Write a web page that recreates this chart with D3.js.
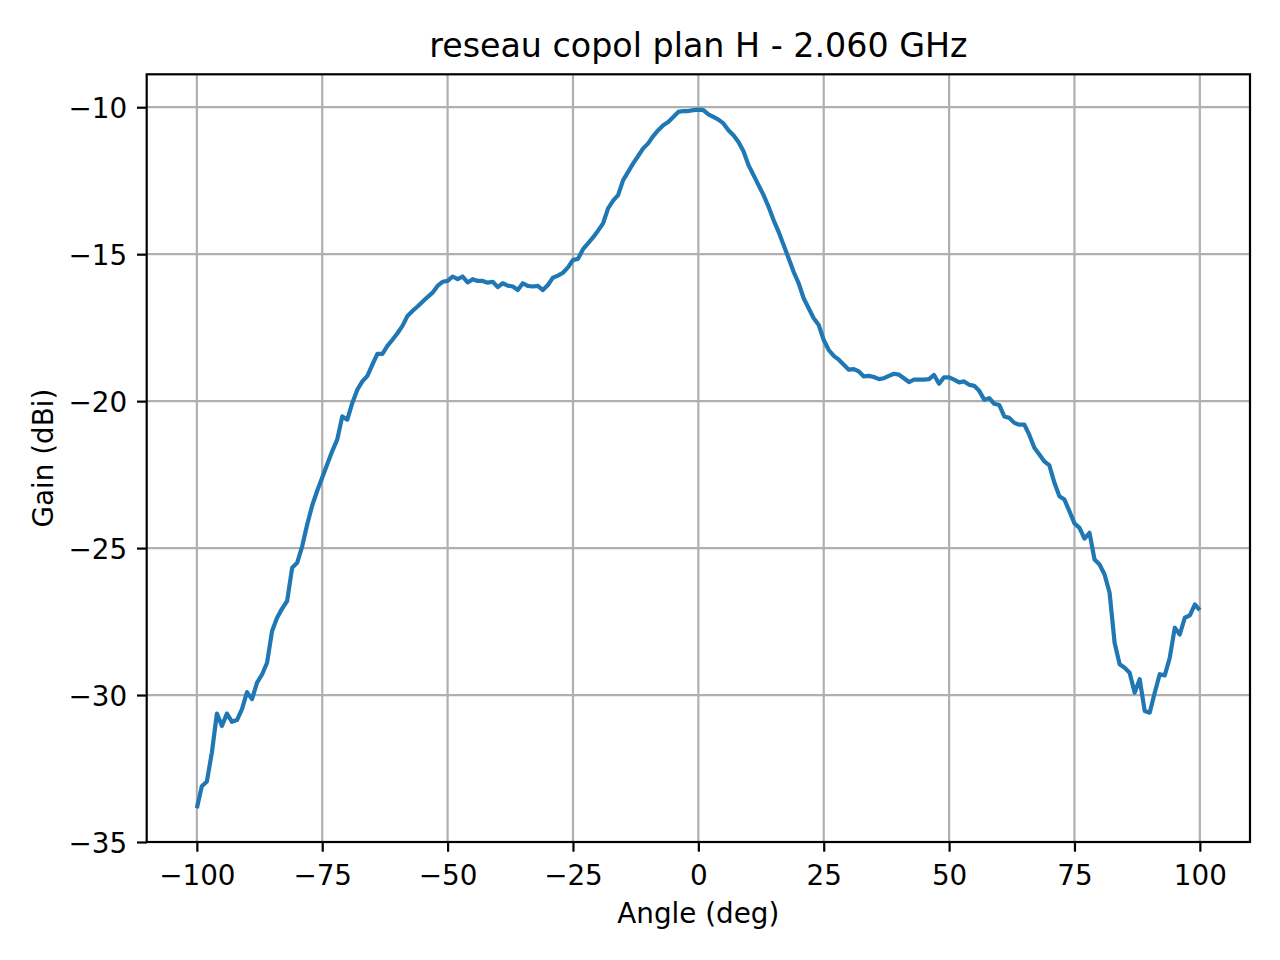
<!DOCTYPE html>
<html>
<head>
<meta charset="utf-8">
<script src="https://cdn.jsdelivr.net/npm/d3@7"></script>
<style>
  html, body { margin: 0; padding: 0; background: #fff; }
  svg { display: block; font-family: "DejaVu Sans", sans-serif; }
</style>
</head>
<body>
<svg id="chart" width="1280" height="960"></svg>
<script>
const title = "reseau copol plan H - 2.060 GHz";
const xLabel = "Angle (deg)";
const yLabel = "Gain (dBi)";
const xTicks = [-100, -75, -50, -25, 0, 25, 50, 75, 100];
const yTicks = [-35, -30, -25, -20, -15, -10];

const angles = [
  -100,-99,-98,-97,-96,-95,-94,-93,-92,-91,-90,-89,-88,-87,-86,-85,-84,-83,-82,-81,
  -80,-79,-78,-77,-76,-75,-74,-73,-72,-71,-70,-69,-68,-67,-66,-65,-64,-63,-62,-61,
  -60,-59,-58,-57,-56,-55,-54,-53,-52,-51,-50,-49,-48,-47,-46,-45,-44,-43,-42,-41,
  -40,-39,-38,-37,-36,-35,-34,-33,-32,-31,-30,-29,-28,-27,-26,-25,-24,-23,-22,-21,
  -20,-19,-18,-17,-16,-15,-14,-13,-12,-11,-10,-9,-8,-7,-6,-5,-4,-3,-2,-1,
  0,1,2,3,4,5,6,7,8,9,10,11,12,13,14,15,16,17,18,19,
  20,21,22,23,24,25,26,27,28,29,30,31,32,33,34,35,36,37,38,39,
  40,41,42,43,44,45,46,47,48,49,50,51,52,53,54,55,56,57,58,59,
  60,61,62,63,64,65,66,67,68,69,70,71,72,73,74,75,76,77,78,79,
  80,81,82,83,84,85,86,87,88,89,90,91,92,93,94,95,96,97,98,99,100
];

const gains = [
  -33.85,-33.10,-32.94,-31.95,-30.63,-31.05,-30.63,-30.91,-30.85,-30.48,
  -29.90,-30.14,-29.58,-29.30,-28.90,-27.82,-27.37,-27.06,-26.80,-25.67,
  -25.50,-24.94,-24.20,-23.55,-23.05,-22.60,-22.15,-21.70,-21.30,-20.52,
  -20.63,-20.06,-19.61,-19.33,-19.14,-18.76,-18.39,-18.39,-18.12,-17.91,
  -17.69,-17.44,-17.10,-16.93,-16.78,-16.62,-16.46,-16.31,-16.08,-15.94,
  -15.91,-15.76,-15.85,-15.76,-15.96,-15.85,-15.91,-15.91,-15.97,-15.94,
  -16.12,-15.99,-16.07,-16.10,-16.22,-15.99,-16.08,-16.10,-16.08,-16.22,
  -16.05,-15.80,-15.73,-15.63,-15.45,-15.20,-15.16,-14.83,-14.63,-14.43,
  -14.20,-13.95,-13.44,-13.18,-12.99,-12.48,-12.20,-11.91,-11.66,-11.40,
  -11.23,-10.98,-10.78,-10.61,-10.50,-10.33,-10.16,-10.13,-10.13,-10.10,
  -10.08,-10.10,-10.24,-10.33,-10.42,-10.55,-10.78,-10.95,-11.18,-11.50,
  -11.97,-12.31,-12.65,-12.99,-13.39,-13.84,-14.24,-14.69,-15.14,-15.60,
  -15.99,-16.50,-16.84,-17.18,-17.41,-17.92,-18.26,-18.46,-18.59,-18.76,
  -18.93,-18.91,-18.99,-19.16,-19.14,-19.18,-19.25,-19.22,-19.14,-19.07,
  -19.10,-19.22,-19.35,-19.27,-19.27,-19.27,-19.25,-19.11,-19.41,-19.19,
  -19.19,-19.27,-19.36,-19.33,-19.44,-19.48,-19.65,-19.95,-19.90,-20.09,
  -20.13,-20.52,-20.57,-20.74,-20.80,-20.80,-21.15,-21.59,-21.82,-22.05,
  -22.19,-22.78,-23.24,-23.35,-23.75,-24.16,-24.31,-24.68,-24.48,-25.39,
  -25.56,-25.90,-26.52,-28.22,-28.95,-29.07,-29.24,-29.92,-29.46,-30.54,
  -30.60,-29.92,-29.29,-29.33,-28.73,-27.71,-27.94,-27.37,-27.29,-26.92,
  -27.11
];

const data = angles.map((a, i) => ({ a, g: gains[i] }));

const L = 146.7, R = 1250, T = 74.3, B = 842;
const x = d3.scaleLinear().domain([-110, 110]).range([L, R]);
const y = d3.scaleLinear().domain([-35.0, -8.88]).range([B, T]);

const svg = d3.select("#chart");
svg.append("rect").attr("width", 1280).attr("height", 960).attr("fill", "#fff");

const gridColor = "#b0b0b0";
const lw = 2.2;

// grid
const grid = svg.append("g");
grid.selectAll("line.gx").data(xTicks).join("line")
  .attr("x1", d => x(d)).attr("x2", d => x(d))
  .attr("y1", T).attr("y2", B)
  .attr("stroke", gridColor).attr("stroke-width", lw);
grid.selectAll("line.gy").data(yTicks).join("line")
  .attr("y1", d => y(d)).attr("y2", d => y(d))
  .attr("x1", L).attr("x2", R)
  .attr("stroke", gridColor).attr("stroke-width", lw);

// data line
const line = d3.line().x(d => x(d.a)).y(d => y(d.g));
svg.append("path").datum(data)
  .attr("d", line)
  .attr("fill", "none")
  .attr("stroke", "#1f77b4")
  .attr("stroke-width", 4.2)
  .attr("stroke-linejoin", "round")
  .attr("stroke-linecap", "butt");

// axes
const fmt = d3.format("");
const xAxis = d3.axisBottom(x).tickValues(xTicks).tickSize(9.7).tickPadding(9.7)
  .tickFormat(d => fmt(d));
const yAxis = d3.axisLeft(y).tickValues(yTicks).tickSize(9.7).tickPadding(9.7)
  .tickFormat(d => fmt(d));

const gx = svg.append("g").attr("transform", `translate(0,${B})`).call(xAxis);
const gy = svg.append("g").attr("transform", `translate(${L},0)`).call(yAxis);
[gx, gy].forEach(g => {
  g.select(".domain").remove();
  g.selectAll(".tick line").attr("stroke", "#000").attr("stroke-width", lw);
  g.selectAll(".tick text").attr("fill", "#000")
    .style("font-family", "'DejaVu Sans', sans-serif")
    .style("font-size", "27.8px");
});
gx.selectAll(".tick text").attr("dy", null).attr("y", 43);
gy.selectAll(".tick text").attr("dy", null).attr("y", 10).attr("x", -19.5);

// spines
svg.append("rect")
  .attr("x", L).attr("y", T).attr("width", R - L).attr("height", B - T)
  .attr("fill", "none").attr("stroke", "#000").attr("stroke-width", lw);

// title & labels
svg.append("text").attr("x", (L + R) / 2).attr("y", 57)
  .attr("text-anchor", "middle").style("font-size", "33.3px").attr("fill", "#000")
  .text(title);
svg.append("text").attr("x", (L + R) / 2).attr("y", 923)
  .attr("text-anchor", "middle").style("font-size", "27.8px").attr("fill", "#000")
  .text(xLabel);
svg.append("text")
  .attr("transform", `translate(53,${(T + B) / 2}) rotate(-90)`)
  .attr("text-anchor", "middle").style("font-size", "27.8px").attr("fill", "#000")
  .text(yLabel);
</script>
</body>
</html>
